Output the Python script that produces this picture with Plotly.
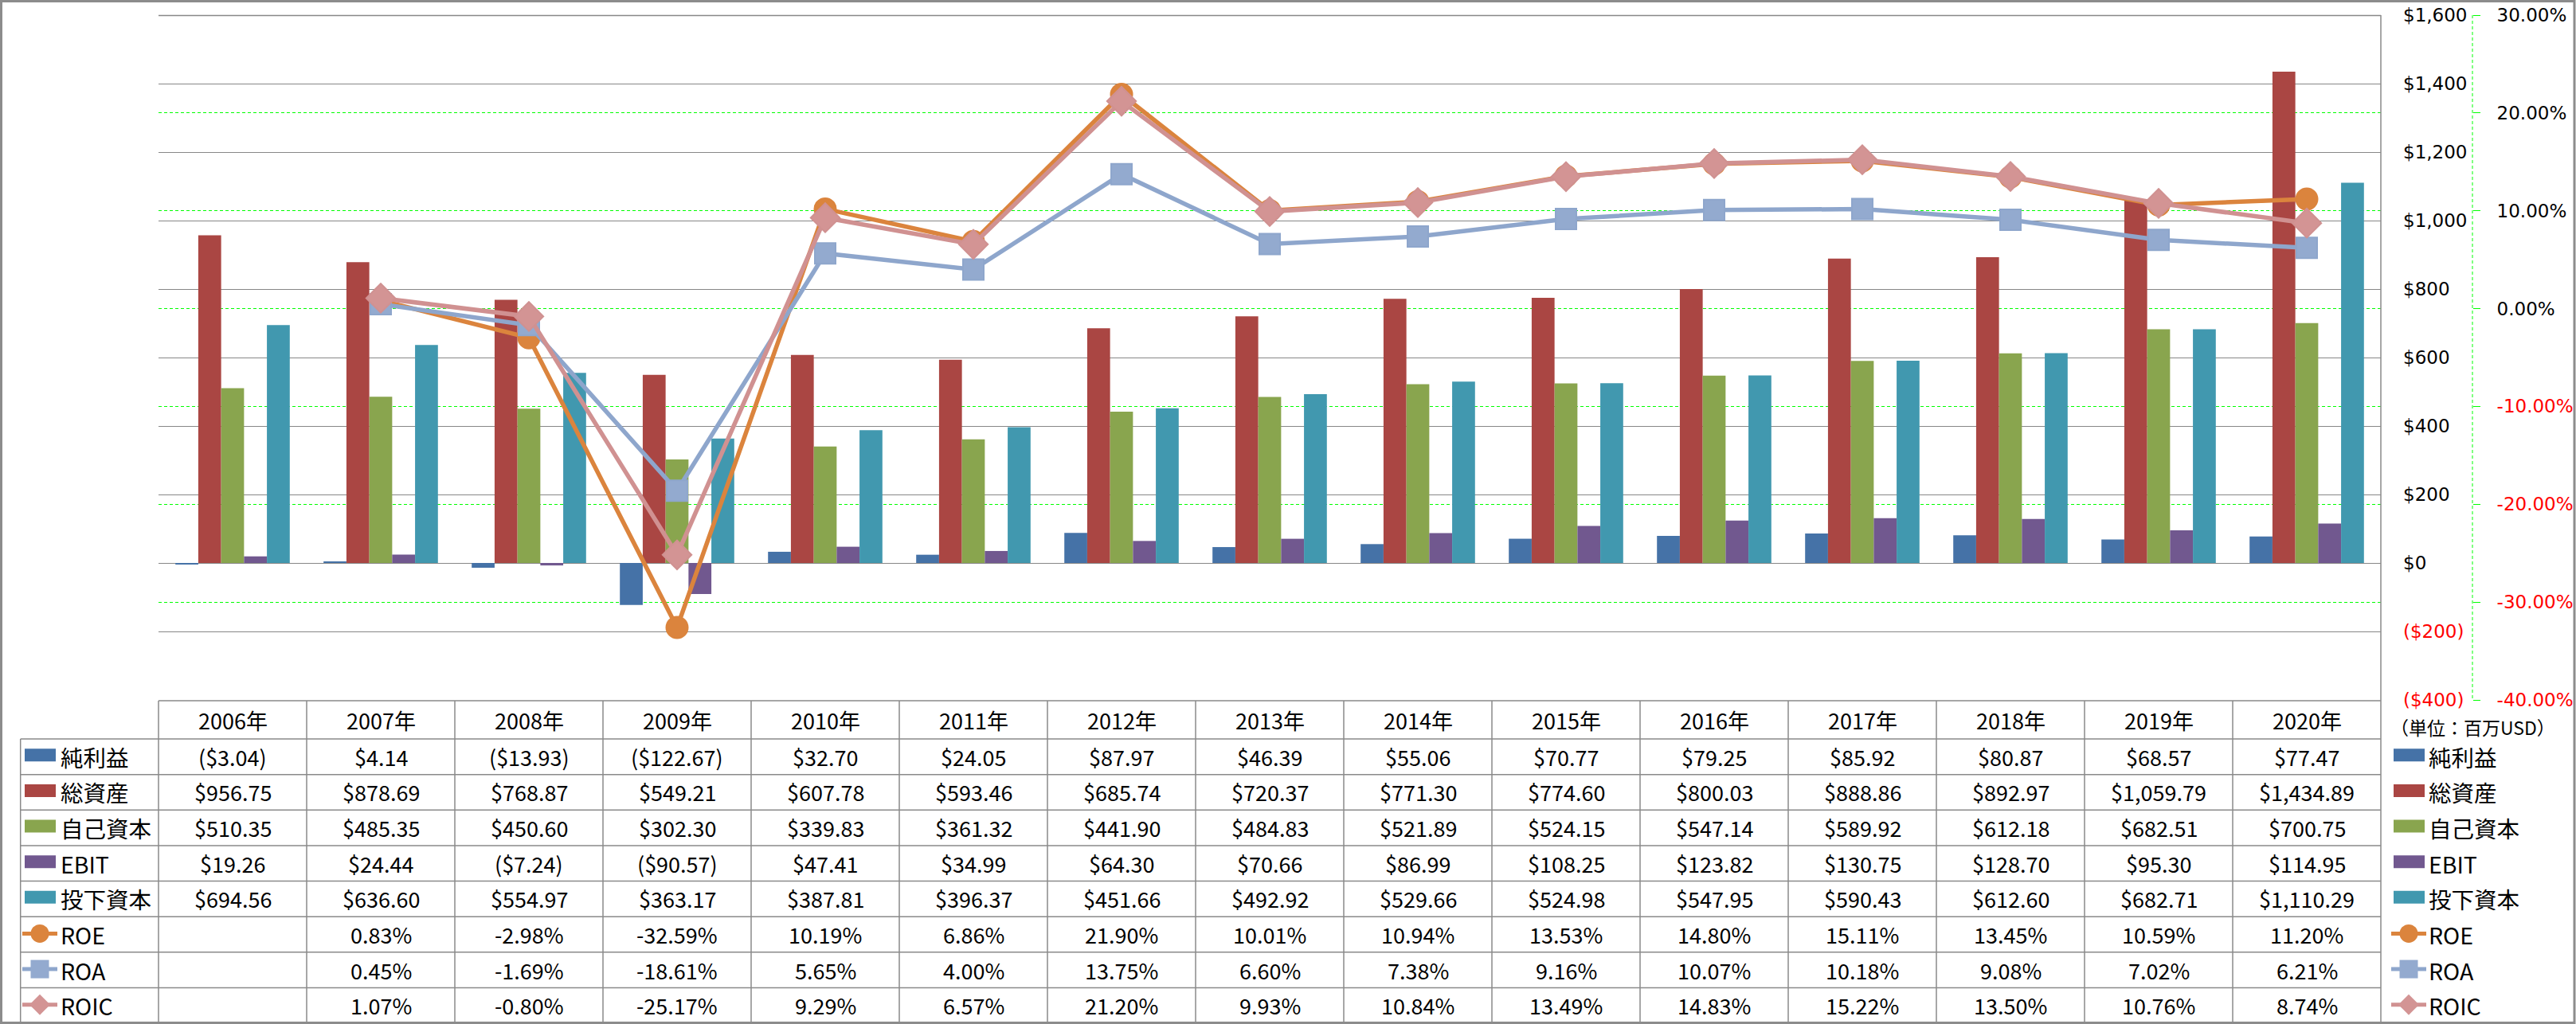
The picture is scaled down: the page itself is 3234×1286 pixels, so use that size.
import plotly.graph_objects as go

# ---------------- data ----------------
categories = ["2006年", "2007年", "2008年", "2009年", "2010年", "2011年", "2012年", "2013年",
              "2014年", "2015年", "2016年", "2017年", "2018年", "2019年", "2020年"]
net_income = [-3.04, 4.14, -13.93, -122.67, 32.70, 24.05, 87.97, 46.39, 55.06, 70.77,
              79.25, 85.92, 80.87, 68.57, 77.47]
total_assets = [956.75, 878.69, 768.87, 549.21, 607.78, 593.46, 685.74, 720.37, 771.30, 774.60,
                800.03, 888.86, 892.97, 1059.79, 1434.89]
equity = [510.35, 485.35, 450.60, 302.30, 339.83, 361.32, 441.90, 484.83, 521.89, 524.15,
          547.14, 589.92, 612.18, 682.51, 700.75]
ebit = [19.26, 24.44, -7.24, -90.57, 47.41, 34.99, 64.30, 70.66, 86.99, 108.25,
        123.82, 130.75, 128.70, 95.30, 114.95]
invested = [694.56, 636.60, 554.97, 363.17, 387.81, 396.37, 451.66, 492.92, 529.66, 524.98,
            547.95, 590.43, 612.60, 682.71, 1110.29]
roe = [None, 0.83, -2.98, -32.59, 10.19, 6.86, 21.90, 10.01, 10.94, 13.53,
       14.80, 15.11, 13.45, 10.59, 11.20]
roa = [None, 0.45, -1.69, -18.61, 5.65, 4.00, 13.75, 6.60, 7.38, 9.16,
       10.07, 10.18, 9.08, 7.02, 6.21]
roic = [None, 1.07, -0.80, -25.17, 9.29, 6.57, 21.20, 9.93, 10.84, 13.49,
        14.83, 15.22, 13.50, 10.76, 8.74]

bar_names = ["純利益", "総資産", "自己資本", "EBIT", "投下資本"]
line_names = ["ROE", "ROA", "ROIC"]
unit_label = "（単位：百万USD）"

left_tick_vals = [-400, -200, 0, 200, 400, 600, 800, 1000, 1200, 1400, 1600]
right_tick_vals = [-40, -30, -20, -10, 0, 10, 20, 30]

# ---------------- styles ----------------
bar_colors = ["#4572A7", "#AA4643", "#89A54E", "#71588F", "#4198AF"]
line_colors = ["#DB843D", "#8EA6CC", "#D09191"]
marker_fill = ["#DB843D", "#93AACF", "#D39494"]
marker_symbols = ["circle", "square", "diamond"]
marker_sizes = [27, 26, 28]

W, H = 3234, 1286
L, T, R, B = 199, 19, 130, 407
PW = W - L - R
PH = H - T - B
PLOT_RIGHT = 2989
COLW = (PLOT_RIGHT - L) / len(categories)


def X(px):
    return (px - L) / PW


def Y(py):
    return 1 - (py - T) / PH


def money(v):
    s = "${:,.2f}".format(abs(v))
    return "(" + s + ")" if v < 0 else s


def pct(v):
    return "" if v is None else "{:.2f}%".format(v)


def red(s):
    return '<span style="color:#FF0000">' + s + '</span>'


left_tick_text = []
for v in left_tick_vals:
    s = "${:,.0f}".format(abs(v))
    left_tick_text.append(red("(" + s + ")") if v < 0 else s)
right_tick_text = [red("{:.2f}%".format(v)) if v < 0 else "{:.2f}%".format(v) for v in right_tick_vals]

fig = go.Figure()
bar_series = [net_income, total_assets, equity, ebit, invested]
for name, vals, col in zip(bar_names, bar_series, bar_colors):
    fig.add_trace(go.Bar(x=categories, y=vals, name=name, marker=dict(color=col, line=dict(width=0)),
                         yaxis="y", showlegend=False))

line_series = [roe, roa, roic]
for name, vals, col, mf, sym, sz in zip(line_names, line_series, line_colors, marker_fill,
                                        marker_symbols, marker_sizes):
    fig.add_trace(go.Scatter(x=categories, y=vals, name=name, mode="lines+markers", yaxis="y2",
                             line=dict(color=col, width=5.5),
                             marker=dict(symbol=sym, size=sz, color=mf, line=dict(color=col, width=2)),
                             showlegend=False, connectgaps=False))

shapes = []
annotations = []
GRAY = "#8A8A8A"


def hline(y, x0, x1, color=GRAY, w=1.5, dash="solid"):
    shapes.append(dict(type="line", xref="paper", yref="paper", x0=X(x0), x1=X(x1), y0=Y(y), y1=Y(y),
                       line=dict(color=color, width=w, dash=dash)))


def vline(x, y0, y1, color=GRAY, w=1.5, dash="solid"):
    shapes.append(dict(type="line", xref="paper", yref="paper", x0=X(x), x1=X(x), y0=Y(y0), y1=Y(y1),
                       line=dict(color=color, width=w, dash=dash)))


# top gridline of the plot area
hline(T + 0.5, L, PLOT_RIGHT, color="#878787", w=1.3)
# secondary axis dashed line
vline(3104, T, T + PH, color="#00FF00", w=1, dash="4px,3px")
# plot right border + table right border
vline(PLOT_RIGHT, T, 1285)

# table geometry
TAB_TOP = 880
HEAD_BOT = 928
ROW_H = (1285 - HEAD_BOT) / 8
LAB_LEFT = 25.7

hline(TAB_TOP, L, PLOT_RIGHT)
for i in range(8):
    hline(HEAD_BOT + ROW_H * i, LAB_LEFT, PLOT_RIGHT)
vline(LAB_LEFT, HEAD_BOT, 1285)
for j in range(len(categories)):
    vline(L + COLW * j, TAB_TOP, 1285)

# outer border
shapes.append(dict(type="rect", xref="paper", yref="paper", x0=X(1.5), x1=X(W - 2), y0=Y(1.5), y1=Y(H - 1.5),
                   line=dict(color="#8C8C8C", width=3)))

TFONT = dict(family="Noto Sans CJK JP, Noto Sans, sans-serif", size=27, color="#000000")
LFONT = dict(family="Noto Sans CJK JP, Noto Sans, sans-serif", size=28.5, color="#000000")

# header
for j, c in enumerate(categories):
    annotations.append(dict(xref="paper", yref="paper", x=X(L + COLW * (j + 0.5)), y=Y((TAB_TOP + HEAD_BOT) / 2),
                            text=c, showarrow=False, xanchor="center", yanchor="middle", font=TFONT))

row_texts = [[money(v) for v in s] for s in bar_series] + [[pct(v) for v in s] for s in line_series]
row_names = bar_names + line_names
for i, (nm, texts) in enumerate(zip(row_names, row_texts)):
    cy = HEAD_BOT + ROW_H * (i + 0.5)
    for j, t in enumerate(texts):
        if t:
            annotations.append(dict(xref="paper", yref="paper", x=X(L + COLW * (j + 0.5)), y=Y(cy),
                                    text=t, showarrow=False, xanchor="center", yanchor="middle", font=TFONT))
    # legend keys: left (in table) and right
    for kx0, tx in ((31, 74), (3005, 3047)):
        if i < 5:
            shapes.append(dict(type="rect", xref="paper", yref="paper", x0=X(kx0), x1=X(kx0 + 39),
                               y0=Y(cy - 10), y1=Y(cy + 6), line=dict(width=0), fillcolor=bar_colors[i]))
        else:
            k = i - 5
            lx0, lx1 = kx0 - 3, kx0 + 41
            mcx = (lx0 + lx1) / 2
            hline(cy - 1, lx0, lx1, color=line_colors[k], w=5)
            r = 11.5
            if k == 0:
                shapes.append(dict(type="circle", xref="paper", yref="paper", x0=X(mcx - r), x1=X(mcx + r),
                                   y0=Y(cy - 1 - r), y1=Y(cy - 1 + r), line=dict(width=0),
                                   fillcolor=marker_fill[k]))
            elif k == 1:
                shapes.append(dict(type="rect", xref="paper", yref="paper", x0=X(mcx - r), x1=X(mcx + r),
                                   y0=Y(cy - 1 - r), y1=Y(cy - 1 + r), line=dict(width=0),
                                   fillcolor=marker_fill[k]))
            else:
                rr = 13
                p = "M {} {} L {} {} L {} {} L {} {} Z".format(
                    X(mcx - rr), Y(cy - 1), X(mcx), Y(cy - 1 - rr), X(mcx + rr), Y(cy - 1), X(mcx), Y(cy - 1 + rr))
                shapes.append(dict(type="path", xref="paper", yref="paper", path=p, line=dict(width=0),
                                   fillcolor=marker_fill[k]))
        annotations.append(dict(xref="paper", yref="paper", x=X(tx), y=Y(cy), text=nm, showarrow=False,
                                xanchor="left", yanchor="middle", font=LFONT))

annotations.append(dict(xref="paper", yref="paper", x=X(3104), y=Y(913), text=unit_label, showarrow=False,
                        xanchor="center", yanchor="middle",
                        font=dict(family="Noto Sans CJK JP, sans-serif", size=23, color="#000000")))

AXFONT = dict(family="DejaVu Sans, Verdana, sans-serif", size=23, color="#000000")

fig.update_layout(
    width=W, height=H,
    margin=dict(l=L, r=R, t=T, b=B, pad=0, autoexpand=False),
    paper_bgcolor="white", plot_bgcolor="white",
    barmode="group", bargap=0.228, bargroupgap=0,
    showlegend=False, hovermode=False,
    xaxis=dict(domain=[0, (PLOT_RIGHT - L) / PW], type="category", range=[-0.5, len(categories) - 0.5],
               showticklabels=False, showgrid=False, zeroline=False, showline=False, ticks="",
               automargin=False),
    yaxis=dict(range=[-400, 1600], side="right", anchor="x", tickvals=left_tick_vals, ticktext=left_tick_text,
               showgrid=True, gridcolor="#878787", gridwidth=1.3, zeroline=False, showline=False, ticks="",
               ticklabelstandoff=27, tickfont=AXFONT, automargin=False),
    yaxis2=dict(range=[-40, 30], overlaying="y", side="right", anchor="free", position=1.0,
                tickvals=right_tick_vals, ticktext=right_tick_text,
                showgrid=True, gridcolor="#00FF00", gridwidth=1, griddash="4px,3px",
                zeroline=False, showline=False, ticks="outside", ticklen=9, tickcolor="#00FF00", tickwidth=1,
                ticklabelstandoff=16, tickfont=AXFONT, automargin=False),
    shapes=shapes, annotations=annotations,
)

fig.write_html("out.html", config={"displayModeBar": False},
               post_script="document.body.style.margin='0';document.body.style.overflow='hidden';")
